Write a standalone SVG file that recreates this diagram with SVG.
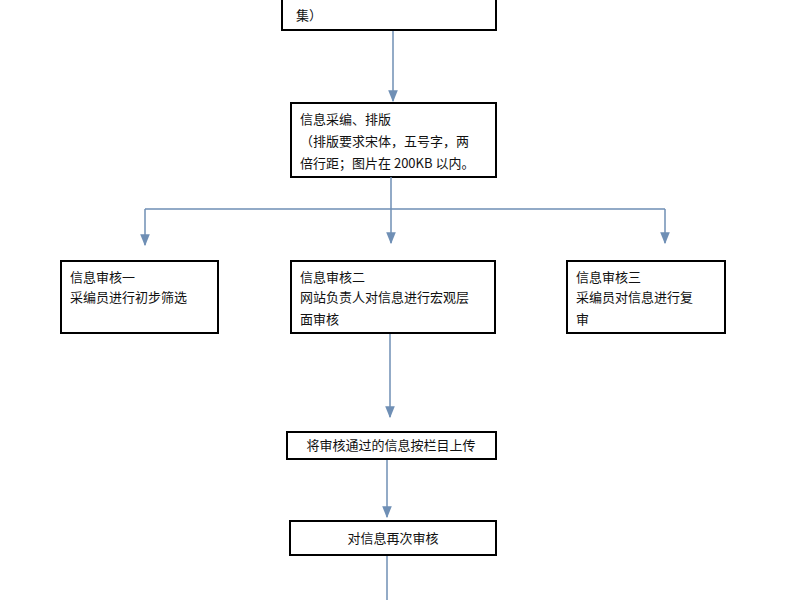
<svg xmlns="http://www.w3.org/2000/svg" width="800" height="600" viewBox="0 0 800 600">
<style>
rect{fill:#fff;stroke:#000;stroke-width:2}
text{font-family:"Noto Sans CJK SC","Liberation Serif",serif;font-size:13px;fill:#111}
.c{stroke:#6f8fb5;stroke-width:1.5;fill:none}
</style>
<defs><marker id="a" viewBox="0 0 10 10" refX="9" refY="5" markerWidth="8" markerHeight="8" orient="auto"><path d="M0,1 L10,5 L0,9 z" fill="#6f8fb5"/></marker></defs>
<rect width="800" height="600" style="stroke:none"/>
<g id="n0"><rect x="282" y="-40" width="214" height="70"/><text x="296" y="20">集）</text></g>
<g id="n1"><rect x="291" y="103" width="205" height="74"/><text x="300" y="124">信息采编、排版</text><text x="300" y="146">（排版要求宋体，五号字，两</text><text x="300" y="168">倍行距；图片在 200KB 以内。</text></g>
<g id="n2"><rect x="61" y="261" width="157" height="72"/><text x="70" y="282">信息审核一</text><text x="70" y="302">采编员进行初步筛选</text></g>
<g id="n3"><rect x="291" y="261" width="204" height="72"/><text x="300" y="282">信息审核二</text><text x="300" y="302">网站负责人对信息进行宏观层</text><text x="300" y="324">面审核</text></g>
<g id="n4"><rect x="567" y="261" width="158" height="72"/><text x="576" y="282">信息审核三</text><text x="576" y="302">采编员对信息进行复</text><text x="576" y="324">审</text></g>
<g id="n5"><rect x="287" y="432" width="209" height="27"/><text x="391" y="450" text-anchor="middle">将审核通过的信息按栏目上传</text></g>
<g id="n6"><rect x="290" y="521" width="206" height="34"/><text x="393" y="543" text-anchor="middle">对信息再次审核</text></g>
<g id="connectors">
<path class="c" d="M393,31 V101" marker-end="url(#a)"/>
<path class="c" d="M391,177 V209 M145,209 H665"/>
<path class="c" d="M145,209 V245" marker-end="url(#a)"/>
<path class="c" d="M391,209 V243" marker-end="url(#a)"/>
<path class="c" d="M665,209 V243" marker-end="url(#a)"/>
<path class="c" d="M390,334 V417" marker-end="url(#a)"/>
<path class="c" d="M387,460 V517" marker-end="url(#a)"/>
<path class="c" d="M387,556 V600"/>
</g>
</svg>
